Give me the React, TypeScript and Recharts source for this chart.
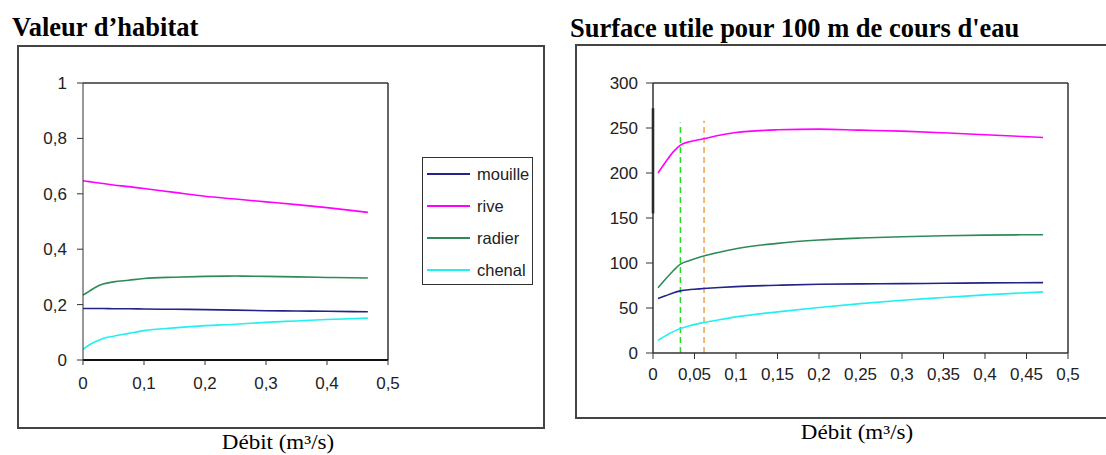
import { LineChart, Line, XAxis, YAxis, ReferenceLine, Legend } from "recharts";

// Valeur d'habitat (gauche)
const debitHab = [0, 0.01, 0.02, 0.033, 0.05, 0.075, 0.1, 0.15, 0.2, 0.25, 0.3, 0.35, 0.4, 0.467];
const mouilleHab = [0.186, 0.186, 0.186, 0.186, 0.185, 0.185, 0.184, 0.183, 0.182, 0.18, 0.178, 0.177, 0.176, 0.174];
const riveHab = [0.647, 0.644, 0.641, 0.637, 0.632, 0.626, 0.619, 0.605, 0.591, 0.581, 0.571, 0.561, 0.55, 0.533];
const radierHab = [0.234, 0.248, 0.262, 0.274, 0.282, 0.288, 0.294, 0.299, 0.302, 0.303, 0.302, 0.3, 0.298, 0.296];
const chenalHab = [0.038, 0.054, 0.066, 0.078, 0.086, 0.096, 0.106, 0.116, 0.124, 0.129, 0.136, 0.141, 0.146, 0.151];
const ticksHabX = [0, 0.1, 0.2, 0.3, 0.4, 0.5];
const ticksHabY = [0, 0.2, 0.4, 0.6, 0.8, 1];

// Surface utile (droite)
const debitSurf = [0.006, 0.015, 0.025, 0.033, 0.045, 0.061, 0.08, 0.1, 0.15, 0.2, 0.25, 0.3, 0.35, 0.4, 0.47];
const mouilleSurf = [60.5, 63.5, 67, 69, 70.5, 71.6, 72.8, 73.8, 75.3, 76.4, 76.8, 77.1, 77.5, 77.9, 78.2];
const riveSurf = [200, 212, 224, 231, 235, 238, 242, 245, 248, 248.8, 247.6, 246.5, 244.7, 242.5, 239.5];
const radierSurf = [72.4, 82, 92, 98.8, 103, 107.7, 112, 115.9, 121.8, 125.5, 127.7, 129.2, 130.3, 131, 131.4];
const chenalSurf = [14.1, 19, 24, 27.1, 30.5, 33.8, 37, 40.1, 45.7, 50.5, 54.9, 58.6, 61.6, 64.6, 67.9];
const ticksSurfX = [0, 0.05, 0.1, 0.15, 0.2, 0.25, 0.3, 0.35, 0.4, 0.45, 0.5];
const ticksSurfY = [0, 50, 100, 150, 200, 250, 300];

// débits repères (traits pointillés)
const debitVert = 0.033;
const hautVert = 256;
const debitOrange = 0.0615;
const hautOrange = 258;

const series = [
  { key: "mouille", color: "#23238a" },
  { key: "rive", color: "#ff00ff" },
  { key: "radier", color: "#2e8b57" },
  { key: "chenal", color: "#22f0f0" },
];

const dataHab = debitHab.map((x, i) => ({
  x,
  mouille: mouilleHab[i],
  rive: riveHab[i],
  radier: radierHab[i],
  chenal: chenalHab[i],
}));

const dataSurf = debitSurf.map((x, i) => ({
  x,
  mouille: mouilleSurf[i],
  rive: riveSurf[i],
  radier: radierSurf[i],
  chenal: chenalSurf[i],
}));

const sans = "'Liberation Sans', Arial, sans-serif";
const serif = "'Liberation Serif', 'Times New Roman', serif";
const fmt = (v: number) => String(v).replace(".", ",");
const tickStyle = { fontSize: 17, fill: "#222", fontFamily: sans };

function HabLegend() {
  return (
    <div
      style={{
        border: "1.5px solid #333",
        width: 111,
        height: 128,
        boxSizing: "border-box",
        paddingLeft: 4,
        background: "#fff",
      }}
    >
      {series.map((s) => (
        <div key={s.key} style={{ display: "flex", alignItems: "center", height: 32 }}>
          <span style={{ width: 43, height: 0, borderTop: `2px solid ${s.color}`, marginRight: 7 }} />
          <span style={{ fontFamily: sans, fontSize: 16.5, color: "#222" }}>{s.key}</span>
        </div>
      ))}
    </div>
  );
}

export default function App() {
  return (
    <div
      style={{
        position: "absolute",
        left: 0,
        top: 0,
        width: 1106,
        height: 455,
        background: "#fff",
        overflow: "hidden",
      }}
    >
      {/* cadres */}
      <div style={{ position: "absolute", left: 17, top: 45, width: 528, height: 384, border: "2px solid #444", boxSizing: "border-box" }} />
      <div style={{ position: "absolute", left: 575, top: 44, width: 620, height: 375, border: "2px solid #444", boxSizing: "border-box" }} />

      {/* titres */}
      <div style={{ position: "absolute", left: 12, top: 14, fontFamily: serif, fontWeight: "bold", fontSize: 26.5, lineHeight: "26px", whiteSpace: "nowrap" }}>
        Valeur d’habitat
      </div>
      <div style={{ position: "absolute", left: 570, top: 15, fontFamily: serif, fontWeight: "bold", fontSize: 26.5, lineHeight: "26px", whiteSpace: "nowrap" }}>
        Surface utile pour 100 m de cours d'eau
      </div>

      {/* axe des débits */}
      <div style={{ position: "absolute", left: 178, top: 432, width: 200, textAlign: "center", fontFamily: serif, fontSize: 20, lineHeight: "20px", transform: "scaleX(1.15)" }}>
        Débit (m³/s)
      </div>
      <div style={{ position: "absolute", left: 757, top: 422, width: 200, textAlign: "center", fontFamily: serif, fontSize: 20, lineHeight: "20px", transform: "scaleX(1.15)" }}>
        Débit (m³/s)
      </div>

      {/* graphique gauche */}
      <div style={{ position: "absolute", left: 0, top: 0 }}>
        <LineChart width={545} height={455} data={dataHab} margin={{ top: 83, right: 157, left: 23, bottom: 65 }}>
          <XAxis
            dataKey="x"
            type="number"
            domain={[0, 0.5]}
            ticks={ticksHabX}
            tickFormatter={fmt}
            tick={tickStyle}
            axisLine={{ stroke: "#111", strokeWidth: 2 }}
            tickLine={{ stroke: "#333" }}
            tickSize={5}
            tickMargin={12}
            height={30}
          />
          <YAxis
            type="number"
            domain={[0, 1]}
            ticks={ticksHabY}
            tickFormatter={fmt}
            tick={tickStyle}
            axisLine={{ stroke: "#333" }}
            tickLine={{ stroke: "#333" }}
            tickSize={6}
            tickMargin={10}
            width={60}
          />
          <ReferenceLine y={1} stroke="#333" strokeWidth={1.5} />
          <ReferenceLine x={0.5} stroke="#333" strokeWidth={1.5} />
          {series.map((s) => (
            <Line
              key={s.key}
              type="monotone"
              dataKey={s.key}
              stroke={s.color}
              strokeWidth={1.6}
              dot={false}
              isAnimationActive={false}
            />
          ))}
          <Legend
            layout="horizontal"
            verticalAlign="middle"
            align="center"
            content={() => <HabLegend />}
            wrapperStyle={{ position: "absolute", left: 422, top: 157, width: 111, height: 128 }}
          />
        </LineChart>
      </div>

      {/* graphique droit */}
      <div style={{ position: "absolute", left: 560, top: 0 }}>
        <LineChart width={546} height={455} data={dataSurf} margin={{ top: 83, right: 38, left: 33, bottom: 72 }}>
          <XAxis
            dataKey="x"
            type="number"
            domain={[0, 0.5]}
            ticks={ticksSurfX}
            tickFormatter={fmt}
            tick={tickStyle}
            axisLine={{ stroke: "#333", strokeWidth: 1.5 }}
            tickLine={{ stroke: "#333" }}
            tickSize={6}
            tickMargin={9}
            height={30}
          />
          <YAxis
            type="number"
            domain={[0, 300]}
            ticks={ticksSurfY}
            tick={tickStyle}
            axisLine={{ stroke: "#333", strokeWidth: 1.5 }}
            tickLine={{ stroke: "#333" }}
            tickSize={7}
            tickMargin={8}
            width={60}
          />
          <ReferenceLine y={300} stroke="#333" strokeWidth={1.5} />
          <ReferenceLine x={0.5} stroke="#333" strokeWidth={1.5} />
          <ReferenceLine segment={[{ x: 0, y: 155 }, { x: 0, y: 272 }]} stroke="#111" strokeWidth={2.5} />
          <ReferenceLine
            segment={[{ x: debitVert, y: 0 }, { x: debitVert, y: hautVert }]}
            stroke="#22dd22"
            strokeWidth={1.5}
            strokeDasharray="6 4"
          />
          <ReferenceLine
            segment={[{ x: debitOrange, y: 0 }, { x: debitOrange, y: hautOrange }]}
            stroke="#f0a050"
            strokeWidth={1.5}
            strokeDasharray="6 4"
          />
          {series.map((s) => (
            <Line
              key={s.key}
              type="monotone"
              dataKey={s.key}
              stroke={s.color}
              strokeWidth={1.6}
              dot={false}
              isAnimationActive={false}
            />
          ))}
        </LineChart>
      </div>
    </div>
  );
}
